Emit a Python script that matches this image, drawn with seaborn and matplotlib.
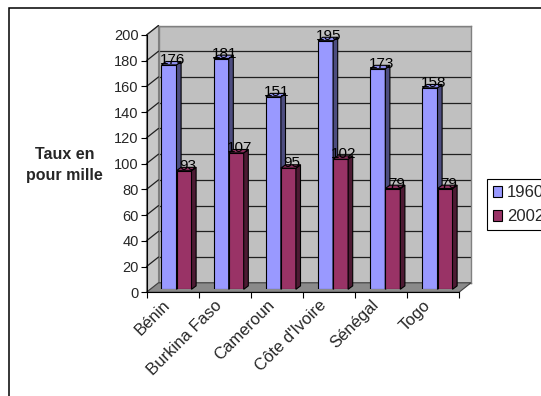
import matplotlib
matplotlib.use('Agg')
import matplotlib.pyplot as plt
import numpy as np
import pandas as pd
import seaborn as sns
from matplotlib.patches import Polygon, Rectangle, Patch
from matplotlib.lines import Line2D
from matplotlib.transforms import ScaledTranslation

# ---------------- data ----------------
pays = ['Bénin', 'Burkina Faso', 'Cameroun', "Côte d'Ivoire", 'Sénégal', 'Togo']
taux_1960 = [176, 181, 151, 195, 173, 158]
taux_2002 = [93, 107, 95, 102, 79, 79]
annees = ['1960', '2002']
graduations = [0, 20, 40, 60, 80, 100, 120, 140, 160, 180, 200]
titre_axe = 'Taux en\npour mille'

# ---------------- style ----------------
sns.set_style('white')
plt.rcParams['font.family'] = ['Liberation Sans', 'DejaVu Sans']

couleurs = ['#9999FF', '#993366']
cotes = ['#4D4D80', '#4D1A33']
dessus = ['#8C8CEB', '#8A2E5C']

W, H, DPI = 541, 396, 100
fig = plt.figure(figsize=(W / DPI, H / DPI), dpi=DPI)
fig.patch.set_facecolor('white')


def box(x0, ytop, x1, ybot):
    return [x0 / W, 1 - ybot / H, (x1 - x0) / W, (ybot - ytop) / H]


def to_fig(pts):
    return fig.transFigure.inverted().transform(np.asarray(pts))


FL, FR, FT, FB = 146.5, 459.0, 35.0, 292.3   # front plane (pixels)
DX, DY = 12.0, 9.5                            # wall depth offset
BDX, BDY = 4.6, 3.4                           # bar depth

# ---------------- back wall ----------------
axw = fig.add_axes(box(FL + DX, FT - DY, FR + DX, FB - DY), zorder=0)
axw.set_facecolor('#C0C0C0')
axw.set_xlim(0, 1)
axw.set_ylim(graduations[0], graduations[-1])
axw.set_yticks(graduations)
axw.set_xticks([])
axw.grid(True, axis='y', color='#202020', lw=0.9)
axw.tick_params(left=False, labelleft=False, bottom=False)
for s in axw.spines.values():
    s.set_color('#808080')
    s.set_linewidth(1.0)

# ---------------- front axes (axis lines, ticks) ----------------
ax = fig.add_axes(box(FL, FT, FR, FB), zorder=3)
ax.patch.set_alpha(0)
ax.set_xlim(-0.5, len(pays) - 0.5)
ax.set_ylim(graduations[0], graduations[-1])
ax.set_yticks(graduations)
ax.set_xticks(np.arange(len(pays) + 1) - 0.5)
ax.set_xticklabels([])
ax.set_xticks(np.arange(len(pays)), labels=pays, minor=True)
ax.tick_params(axis='x', which='major', bottom=True, direction='out', length=4, width=0.8, color='black')
ax.tick_params(axis='x', which='minor', bottom=True, length=0, labelsize=12, pad=0)
ax.tick_params(axis='y', left=True, direction='out', length=4, width=0.8, color='black',
               labelsize=10.5, pad=1.5)
for s in ['top', 'right']:
    ax.spines[s].set_visible(False)
for s in ['left', 'bottom']:
    ax.spines[s].set_color('black')
    ax.spines[s].set_linewidth(0.8)
for lab in ax.get_xticklabels(minor=True):
    lab.set_rotation(45)
    lab.set_ha('right')
    lab.set_va('top')
    lab.set_rotation_mode('anchor')
    lab.set_transform(lab.get_transform() + ScaledTranslation(-10 / DPI, -5 / DPI, fig.dpi_scale_trans))

# side wall and floor (derived from the front axes' scale)
p_bl = ax.transData.transform((-0.5, graduations[0]))
p_tl = ax.transData.transform((-0.5, graduations[-1]))
p_br = ax.transData.transform((len(pays) - 0.5, graduations[0]))
side = Polygon(to_fig([p_bl, p_tl, p_tl + [DX, DY], p_bl + [DX, DY]]), closed=True,
               transform=fig.transFigure, facecolor='#C8C8C8', edgecolor='#808080', lw=0.8, zorder=0.5)
fig.add_artist(side)
floor = Polygon(to_fig([p_bl, p_br, p_br + [DX, DY], p_bl + [DX, DY]]), closed=True,
                transform=fig.transFigure, facecolor='#8A8A8A', edgecolor='#404040', lw=0.8, zorder=0.6)
fig.add_artist(floor)
for v in graduations[1:]:
    p0 = ax.transData.transform((-0.5, v))
    pts = to_fig([p0, p0 + [DX, DY]])
    fig.add_artist(Line2D(pts[:, 0], pts[:, 1], transform=fig.transFigure, color='#202020', lw=0.9, zorder=0.55))

# ---------------- bars ----------------
axb = fig.add_axes(box(150.4, 34.3, 463.6, 289.3), zorder=2)
df = pd.DataFrame({
    'Pays': pays * 2,
    'Taux': taux_1960 + taux_2002,
    'Année': [annees[0]] * len(pays) + [annees[1]] * len(pays),
})
sns.barplot(data=df, x='Pays', y='Taux', hue='Année', hue_order=annees, order=pays,
            palette=couleurs, saturation=1, width=0.575, gap=0, edgecolor='black',
            linewidth=0.8, legend=False, ax=axb)
axb.set_xlim(-0.5, len(pays) - 0.5)
axb.set_ylim(graduations[0], graduations[-1])
axb.axis('off')

series = [taux_1960, taux_2002]
bars = sorted(axb.patches, key=lambda p: p.get_x())
for k, p in enumerate(bars):
    i, j = divmod(k, 2)
    z = 2 + 2 * i + j
    p.set_zorder(z)
    x0, w, h = p.get_x(), p.get_width(), p.get_height()
    X0, Y0 = axb.transData.transform((x0, 0))
    X1, Y1 = axb.transData.transform((x0 + w, h))
    sidep = [(X1, Y0), (X1 + BDX, Y0 + BDY), (X1 + BDX, Y1 + BDY), (X1, Y1)]
    topp = [(X0, Y1), (X0 + BDX, Y1 + BDY), (X1 + BDX, Y1 + BDY), (X1, Y1)]
    axb.add_patch(Polygon(to_fig(sidep), closed=True, transform=fig.transFigure,
                          facecolor=cotes[j], edgecolor='black', lw=0.8, zorder=z + 0.1, clip_on=False))
    axb.add_patch(Polygon(to_fig(topp), closed=True, transform=fig.transFigure,
                          facecolor=dessus[j], edgecolor='black', lw=0.8, zorder=z + 0.2, clip_on=False))
    axb.annotate(f'{series[j][i]}', xy=(x0 + w / 2, series[j][i]), xytext=(3.5, 5.0),
                 textcoords='offset pixels', ha='center', va='center', fontsize=11,
                 color='black', zorder=100, annotation_clip=False)

# ---------------- legend ----------------
handles = [Patch(facecolor=couleurs[j], edgecolor='black', lw=0.8, label=annees[j]) for j in range(2)]
leg = fig.legend(handles=handles, loc='upper left', bbox_to_anchor=(486.7 / W, 1 - 179.3 / H),
                 frameon=True, fancybox=False, edgecolor='black', framealpha=1, fontsize=12,
                 handlelength=0.57, handleheight=0.57, handletextpad=0.3, borderpad=0.36,
                 labelspacing=0.55, borderaxespad=0)
leg.get_frame().set_linewidth(0.8)

# ---------------- axis title ----------------
fig.text(64.5 / W, 1 - 164.5 / H, titre_axe, ha='center', va='center', fontweight='bold',
         fontsize=11.5, linespacing=1.5)

# ---------------- outer frame ----------------
fig.add_artist(Rectangle((9.3 / W, -0.1), 1.2, 1.1 - 8.3 / H, transform=fig.transFigure,
                         fill=False, edgecolor='black', lw=1.1, zorder=50))

fig.savefig('out.png', dpi=DPI)
